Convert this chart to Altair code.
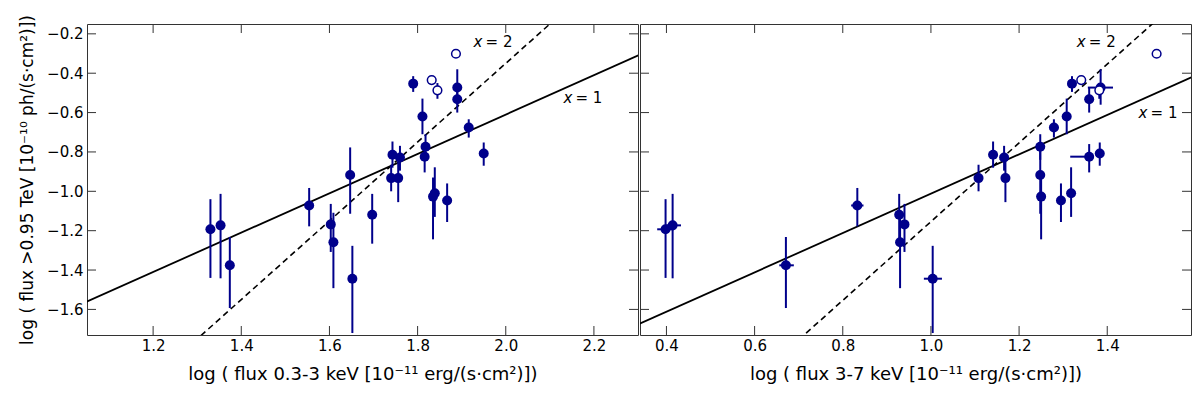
import altair as alt
import pandas as pd

# ---------------- data ----------------
# filled sources: soft-band flux (left), hard-band flux (right), VHE flux (y)
soft_x = [1.79, 1.89, 1.89, 1.811, 1.916, 1.818, 1.816, 1.95, 1.743, 1.76, 1.647, 1.74,
          1.756, 1.839, 1.835, 1.867, 1.33, 1.353, 1.374, 1.554, 1.603, 1.609, 1.652, 1.697]
hard_x = [1.32, 1.385, 1.359, 1.308, 1.279, 1.248, 1.359, 1.383, 1.141, 1.166, 1.248, 1.108,
          1.169, 1.318, 1.25, 1.295, 0.398, 0.414, 0.671, 0.833, 0.94, 0.93, 1.004, 0.928]
hard_x_low = [1.32, 1.356, 1.359, 1.308, 1.27, 1.248, 1.316, 1.383, 1.141, 1.166, 1.248, 1.108,
              1.169, 1.318, 1.25, 1.295, 0.379, 0.40, 0.656, 0.819, 0.94, 0.93, 0.984, 0.928]
hard_x_high = [1.32, 1.413, 1.359, 1.308, 1.29, 1.248, 1.37, 1.383, 1.141, 1.166, 1.248, 1.108,
               1.169, 1.318, 1.25, 1.295, 0.417, 0.433, 0.689, 0.847, 0.94, 0.93, 1.025, 0.928]
flux_y = [-0.453, -0.473, -0.532, -0.62, -0.676, -0.774, -0.824, -0.808, -0.814, -0.828, -0.917, -0.933,
          -0.933, -1.01, -1.027, -1.047, -1.193, -1.173, -1.376, -1.072, -1.168, -1.259, -1.444, -1.119]
y_low = [-0.495, -0.56, -0.60, -0.71, -0.727, -0.84, -0.904, -0.87, -0.88, -0.895, -1.114, -1.0,
         -1.055, -1.13, -1.244, -1.156, -1.44, -1.442, -1.593, -1.178, -1.308, -1.492, -1.72, -1.266]
y_high = [-0.415, -0.38, -0.47, -0.529, -0.634, -0.71, -0.76, -0.752, -0.747, -0.769, -0.777, -0.865,
          -0.82, -0.878, -0.93, -0.96, -1.04, -1.013, -1.232, -0.983, -1.064, -1.109, -1.277, -1.013]

# open (hollow) sources
open_soft = [1.887, 1.832, 1.845]
open_hard = [1.512, 1.341, 1.382]
open_y = [-0.301, -0.435, -0.487]
open_low = [-0.32, -0.45, -0.53]
open_high = [-0.28, -0.42, -0.45]

# reference slopes x = 1 and x = 2 (slope, intercept) for each panel
fit_left = {"solid": (1.0, -2.61), "dashed": (2.0, -4.35)}
fit_right = {"solid": (1.0, -2.012), "dashed": (2.0, -3.154)}

# annotation anchors (left edge of "x")
ann_left = [(1.927, -0.24, "= 2"), (2.131, -0.524, "= 1")]
ann_right = [(1.331, -0.24, "= 2"), (1.471, -0.603, "= 1")]

x_ticks_left = [1.2, 1.4, 1.6, 1.8, 2.0, 2.2]
x_ticks_right = [0.4, 0.6, 0.8, 1.0, 1.2, 1.4]
y_ticks = [-1.6, -1.4, -1.2, -1.0, -0.8, -0.6, -0.4, -0.2]

x_dom_left = [1.05, 2.3]
x_dom_right = [0.34, 1.59]
y_dom = [-1.73, -0.15]

W, H = 551, 311
NAVY = "#00008B"
TICK = 9

filled = pd.DataFrame({"soft": soft_x, "hard": hard_x, "hlo": hard_x_low, "hhi": hard_x_high,
                       "y": flux_y, "ylo": y_low, "yhi": y_high})
hollow = pd.DataFrame({"soft": open_soft, "hard": open_hard, "y": open_y,
                       "ylo": open_low, "yhi": open_high})


def panel(xfield, xdom, xticks, xtitle, fits, anns, show_y):
    xs = alt.Scale(domain=xdom, nice=False, zero=False)
    ys = alt.Scale(domain=y_dom, nice=False, zero=False)
    xax = alt.Axis(values=xticks, format=".1f", title=xtitle, labelPadding=3, titlePadding=12)
    if show_y:
        yax = alt.Axis(values=y_ticks, format=".1f",
                       title="log ( flux >0.95 TeV [10⁻¹⁰ ph/(s·cm²)])",
                       labelPadding=4, titlePadding=10, titleFontSize=17)
    else:
        yax = None

    def X(f):
        return alt.X(f"{f}:Q", scale=xs, axis=xax)

    def Y(f):
        return alt.Y(f"{f}:Q", scale=ys, axis=yax)

    # reference lines
    rows = []
    for style, (m, b) in fits.items():
        for xv in (xdom[0] - 0.3, xdom[1] + 0.3):
            rows.append({"x": xv, "y": m * xv + b, "style": style})
    fdf = pd.DataFrame(rows)
    solid = alt.Chart(fdf[fdf["style"] == "solid"]).mark_line(
        color="black", strokeWidth=1.8, clip=True).encode(x=X("x"), y=Y("y"))
    dashed = alt.Chart(fdf[fdf["style"] == "dashed"]).mark_line(
        color="black", strokeWidth=1.6, strokeDash=[6, 4], clip=True).encode(x=X("x"), y=Y("y"))

    ebar = alt.Chart(filled).mark_rule(color=NAVY, strokeWidth=2).encode(
        x=X(xfield), y=Y("ylo"), y2="yhi")
    layers = [solid, dashed, ebar]
    if xfield == "hard":
        xbar = alt.Chart(filled).transform_filter("datum.hhi > datum.hlo").mark_rule(
            color=NAVY, strokeWidth=2).encode(x=X("hlo"), x2="hhi", y=Y("y"))
        layers.append(xbar)
    pts = alt.Chart(filled).mark_point(filled=True, shape="circle", size=100, color=NAVY,
                                       opacity=1).encode(x=X(xfield), y=Y("y"))
    oebar = alt.Chart(hollow).mark_rule(color=NAVY, strokeWidth=2).encode(
        x=X(xfield), y=Y("ylo"), y2="yhi")
    opts = alt.Chart(hollow).mark_point(filled=True, shape="circle", size=75, fill="white",
                                        stroke=NAVY, strokeWidth=1.5, opacity=1).encode(
        x=X(xfield), y=Y("y"))
    layers += [pts, oebar, opts]

    adf = pd.DataFrame([{"x": a[0], "y": a[1], "t": a[2]} for a in anns])
    tx = alt.Chart(adf).mark_text(text="x", fontStyle="italic", fontSize=15, align="left",
                                  baseline="middle", font="DejaVu Sans", color="black").encode(
        x=X("x"), y=Y("y"))
    teq = alt.Chart(adf).mark_text(fontSize=15, align="left", baseline="middle", dx=12,
                                   font="DejaVu Sans", color="black").encode(
        x=X("x"), y=Y("y"), text="t:N")
    layers += [tx, teq]

    # inward ticks on all four sides
    xt = pd.DataFrame({"t": xticks})
    yt = pd.DataFrame({"t": y_ticks})
    tick_style = dict(color="#333", strokeWidth=1)
    layers += [
        alt.Chart(xt).mark_rule(**tick_style).encode(x=X("t"), y=alt.value(H), y2=alt.value(H - TICK)),
        alt.Chart(xt).mark_rule(**tick_style).encode(x=X("t"), y=alt.value(0), y2=alt.value(TICK)),
        alt.Chart(yt).mark_rule(**tick_style).encode(y=Y("t"), x=alt.value(0), x2=alt.value(TICK)),
        alt.Chart(yt).mark_rule(**tick_style).encode(y=Y("t"), x=alt.value(W - TICK), x2=alt.value(W)),
    ]
    return alt.layer(*layers).properties(width=W, height=H)


left = panel("soft", x_dom_left, x_ticks_left, "log ( flux 0.3-3 keV [10⁻¹¹ erg/(s·cm²)])",
             fit_left, ann_left, True)
right = panel("hard", x_dom_right, x_ticks_right, "log ( flux 3-7 keV [10⁻¹¹ erg/(s·cm²)])",
              fit_right, ann_right, False)

chart = alt.hconcat(left, right, spacing=0).properties(
    padding={"left": 10, "top": 6, "right": 0, "bottom": 0}
).configure_axis(
    labelFont="DejaVu Sans", titleFont="DejaVu Sans", labelFontSize=15, titleFontSize=18,
    labelColor="black", titleColor="black", titleFontWeight="normal",
    grid=False, ticks=False, domain=False
).configure_view(stroke="#333", strokeWidth=1)

chart.save("out.html", embed_options={"renderer": "svg", "actions": False})
